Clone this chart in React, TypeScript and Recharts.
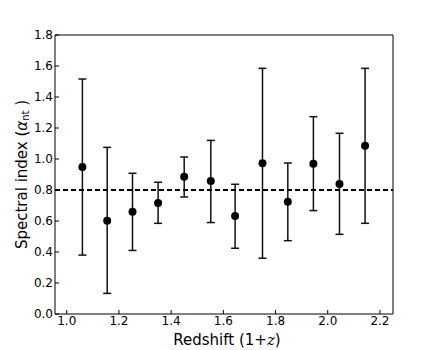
import React from 'react';
import { ScatterChart, Scatter, XAxis, YAxis, ErrorBar, ReferenceLine, Label } from 'recharts';

const redshift = [1.06, 1.155, 1.252, 1.35, 1.45, 1.552, 1.645, 1.75, 1.847, 1.945, 2.045, 2.143];
const alpha = [0.948, 0.602, 0.66, 0.716, 0.886, 0.858, 0.632, 0.972, 0.725, 0.97, 0.839, 1.086];
const upper = [1.516, 1.075, 0.908, 0.85, 1.013, 1.12, 0.837, 1.585, 0.974, 1.273, 1.166, 1.585];
const lower = [0.38, 0.133, 0.41, 0.585, 0.755, 0.59, 0.424, 0.36, 0.473, 0.667, 0.514, 0.585];
const xTicks = [1.0, 1.2, 1.4, 1.6, 1.8, 2.0, 2.2];
const yTicks = [0.0, 0.2, 0.4, 0.6, 0.8, 1.0, 1.2, 1.4, 1.6, 1.8];
const meanAlpha = 0.8;

const data = redshift.map((z, i) => ({
  z,
  a: alpha[i],
  err: [alpha[i] - lower[i], upper[i] - alpha[i]],
}));

const FONT = '"DejaVu Sans", sans-serif';
const tickStyle = { fontSize: 12, fill: '#000', fontFamily: FONT };
const axisLine = { stroke: '#000', strokeWidth: 1 };

const YLabel = (props: any) => {
  const vb = props.viewBox || { x: 10, y: 35, width: 45, height: 279 };
  const cx = vb.x + 12;
  const cy = vb.y + vb.height / 2;
  return (
    <text
      x={cx}
      y={cy}
      transform={`rotate(-90, ${cx}, ${cy})`}
      textAnchor="middle"
      dominantBaseline="central"
      fontSize={15}
      fontFamily={FONT}
      fill="#000"
    >
      Spectral index (<tspan fontStyle="italic">α</tspan>
      <tspan fontSize={10} dy={3}>nt</tspan>
      <tspan dy={-3}> )</tspan>
    </text>
  );
};

const XLabel = (props: any) => {
  const vb = props.viewBox || { x: 55, y: 314, width: 338, height: 36 };
  const cx = vb.x + vb.width / 2 + 3;
  const cy = vb.y + 26;
  return (
    <text x={cx} y={cy} textAnchor="middle" dominantBaseline="central" fontSize={15} fontFamily={FONT} fill="#000">
      Redshift (1+<tspan fontStyle="italic" fontFamily="'DejaVu Serif', serif">z</tspan>)
    </text>
  );
};

const App: React.FC = () => {
  return (
    <div style={{ position: 'absolute', left: 0, top: 0, width: 436, height: 350, background: '#fff' }}>
      <ScatterChart width={436} height={350} margin={{ top: 30, right: 38, bottom: 0, left: 10 }}>
        <XAxis
          xAxisId="bottom"
          type="number"
          dataKey="z"
          domain={[0.955, 2.25]}
          ticks={xTicks}
          tickFormatter={(v: number) => v.toFixed(1)}
          allowDataOverflow
          height={36}
          tickSize={-4}
          tickMargin={6}
          tick={tickStyle}
          axisLine={axisLine}
          tickLine={{ stroke: '#000' }}
        >
          <Label content={<XLabel />} />
        </XAxis>
        <XAxis
          xAxisId="top"
          orientation="top"
          type="number"
          dataKey="z"
          domain={[0.955, 2.25]}
          ticks={xTicks}
          allowDataOverflow
          height={5}
          tickSize={-4}
          tick={false}
          axisLine={axisLine}
          tickLine={{ stroke: '#000' }}
        />
        <YAxis
          yAxisId="left"
          type="number"
          dataKey="a"
          domain={[0, 1.8]}
          ticks={yTicks}
          tickFormatter={(v: number) => v.toFixed(1)}
          allowDataOverflow
          width={45}
          tickSize={-4}
          tickMargin={6}
          tick={tickStyle}
          axisLine={axisLine}
          tickLine={{ stroke: '#000' }}
        >
          <Label content={<YLabel />} />
        </YAxis>
        <YAxis
          yAxisId="right"
          orientation="right"
          type="number"
          dataKey="a"
          domain={[0, 1.8]}
          ticks={yTicks}
          allowDataOverflow
          width={5}
          tickSize={-4}
          tick={false}
          axisLine={axisLine}
          tickLine={{ stroke: '#000' }}
        />
        <ReferenceLine
          xAxisId="bottom"
          yAxisId="left"
          y={meanAlpha}
          stroke="#000"
          strokeWidth={2}
          strokeDasharray="5 3"
        />
        <Scatter
          xAxisId="bottom"
          yAxisId="left"
          data={data}
          fill="#000"
          shape={(p: any) => <circle cx={p.cx} cy={p.cy} r={4} fill="#000" />}
          isAnimationActive={false}
        >
          <ErrorBar dataKey="err" direction="y" width={4} stroke="#111" strokeWidth={1.5} isAnimationActive={false} />
        </Scatter>
      </ScatterChart>
    </div>
  );
};

export default App;
